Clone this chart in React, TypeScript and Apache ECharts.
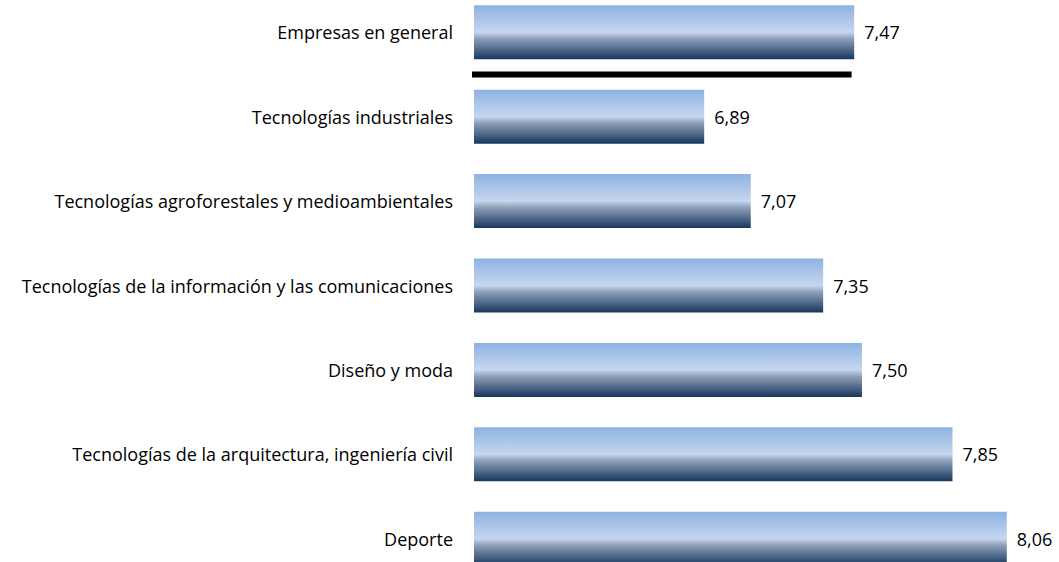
import React, { useEffect, useRef } from "react";
import * as echarts from "echarts";

const categories = [
  "Empresas en general",
  "Tecnologías industriales",
  "Tecnologías agroforestales y medioambientales",
  "Tecnologías de la información y las comunicaciones",
  "Diseño y moda",
  "Tecnologías de la arquitectura, ingeniería civil",
  "Deporte",
];
const values = [7.47, 6.89, 7.07, 7.35, 7.5, 7.85, 8.06];
const axisMin = 6;
const axisMax = 8.2;
const separatorStart = 6;
const separatorEnd = 7.46;

const FONT = "'Open Sans', 'Noto Sans', sans-serif";

export default function App() {
  const ref = useRef<HTMLDivElement>(null);
  useEffect(() => {
    if (!ref.current) return;
    const chart = echarts.init(ref.current, null, { renderer: "svg" });
    chart.setOption({
      animation: false,
      grid: { left: 474, right: 16, top: 0, bottom: 0, containLabel: false },
      xAxis: {
        type: "value",
        min: axisMin,
        max: axisMax,
        show: false,
        splitLine: { show: false },
      },
      yAxis: {
        type: "category",
        data: categories,
        inverse: true,
        axisLine: { show: false },
        axisTick: { show: false },
        splitLine: { show: false },
        axisLabel: {
          margin: 21,
          fontSize: 18,
          color: "#000",
          fontFamily: FONT,
        },
      },
      series: [
        {
          type: "bar",
          data: values,
          barWidth: 54,
          itemStyle: {
            color: new echarts.graphic.LinearGradient(0, 0, 0, 1, [
              { offset: 0, color: "#8db3e2" },
              { offset: 0.5, color: "#c6d6ef" },
              { offset: 0.62, color: "#8e9fb9" },
              { offset: 1, color: "#17375e" },
            ]),
          },
          label: {
            show: true,
            position: "right",
            distance: 10,
            fontSize: 18,
            color: "#000",
            fontFamily: FONT,
            formatter: (p: any) => Number(p.value).toFixed(2).replace(".", ","),
          },
        },
      ],
    });
    const a = chart.convertToPixel({ gridIndex: 0 }, [separatorStart, 0]) as number[];
    const b = chart.convertToPixel({ gridIndex: 0 }, [separatorEnd, 1]) as number[];
    const yMid = (a[1] + b[1]) / 2;
    chart.setOption({
      graphic: [
        {
          type: "line",
          shape: { x1: a[0] - 2, y1: yMid, x2: b[0], y2: yMid },
          style: { stroke: "#000", lineWidth: 6 },
        },
      ],
    });
    return () => chart.dispose();
  }, []);
  return (
    <div
      style={{
        position: "absolute",
        left: 0,
        top: 0,
        width: 1059,
        height: 562,
        overflow: "hidden",
      }}
    >
      <div
        ref={ref}
        style={{ position: "absolute", left: 0, top: -10, width: 1059, height: 591 }}
      />
    </div>
  );
}
